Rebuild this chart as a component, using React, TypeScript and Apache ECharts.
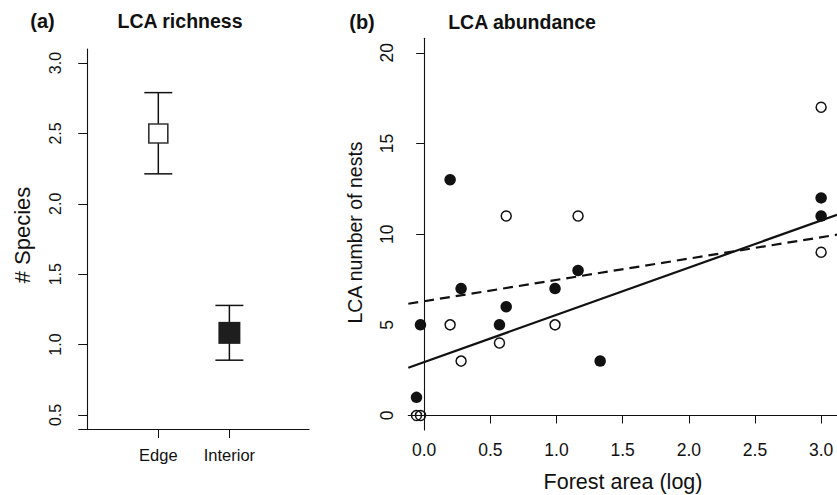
import React, { useEffect, useRef } from "react";
import * as echarts from "echarts";

// ---- Panel (a): LCA richness ----
const richnessCategories = ["Edge", "Interior"];
const richnessPositions = [1, 2];
const richnessMean = [2.5, 1.083];
const richnessUpper = [2.79, 1.278];
const richnessLower = [2.213, 0.889];
const richnessYTicks = [0.5, 1.0, 1.5, 2.0, 2.5, 3.0];

// ---- Panel (b): LCA abundance ----
const edgeArea = [-0.058, -0.028, 0.196, 0.279, 0.569, 0.62, 0.989, 1.163, 3.0, 3.0];
const edgeNests = [0, 0, 5, 3, 4, 11, 5, 11, 17, 9];
const interiorArea = [-0.058, -0.028, 0.196, 0.279, 0.569, 0.62, 0.989, 1.163, 1.33, 3.0, 3.0];
const interiorNests = [1, 5, 13, 7, 5, 6, 7, 8, 3, 12, 11];
const solidFitX = [-0.12, 3.12];
const solidFitY = [2.63, 11.07];
const dashedFitX = [-0.12, 3.12];
const dashedFitY = [6.16, 9.97];
const abundanceXTicks = [0, 0.5, 1.0, 1.5, 2.0, 2.5, 3.0];
const abundanceYTicks = [0, 5, 10, 15, 20];

const FONT = "'Liberation Sans', Arial, Helvetica, sans-serif";
const INK = "#111";

export default function App() {
  const ref = useRef<HTMLDivElement>(null);

  useEffect(() => {
    if (!ref.current) return;
    const chart = echarts.init(ref.current, undefined, { renderer: "svg" });

    const richnessData = richnessPositions.map((p, i) => [
      p,
      richnessMean[i],
      richnessLower[i],
      richnessUpper[i],
      i,
    ]);

    const axisLine = { show: true, lineStyle: { color: INK, width: 1.1 } };

    const option: any = {
      animation: false,
      backgroundColor: "#fff",
      textStyle: { fontFamily: FONT },
      grid: [
        { left: 78.7, top: 49, width: 230.3, height: 380 },
        { left: 408.3, top: 38.3, right: 0, height: 391.7 },
      ],
      xAxis: [
        {
          gridIndex: 0,
          type: "value",
          min: -0.12,
          max: 3.12,
          axisLine,
          splitLine: { show: false },
          axisTick: { show: true, customValues: richnessPositions, length: 9, lineStyle: { color: INK } },
          axisLabel: {
            customValues: richnessPositions,
            formatter: (v: number) => richnessCategories[richnessPositions.indexOf(v)] ?? "",
            fontSize: 16.5,
            margin: 17,
            color: INK,
            fontFamily: FONT,
          },
        },
        {
          gridIndex: 1,
          type: "value",
          min: -0.12,
          max: 3.12,
          axisLine,
          splitLine: { show: false },
          axisTick: { show: true, customValues: abundanceXTicks, length: 8, lineStyle: { color: INK } },
          axisLabel: {
            customValues: abundanceXTicks,
            formatter: (v: number) => v.toFixed(1),
            fontSize: 17.5,
            margin: 11,
            color: INK,
            fontFamily: FONT,
          },
        },
      ],
      yAxis: [
        {
          gridIndex: 0,
          type: "value",
          min: 0.4,
          max: 3.1,
          axisLine,
          splitLine: { show: false },
          axisTick: { show: true, customValues: richnessYTicks, length: 9, lineStyle: { color: INK } },
          axisLabel: {
            customValues: richnessYTicks,
            formatter: (v: number) => v.toFixed(1),
            rotate: 90,
            fontSize: 16,
            margin: 15,
            color: INK,
            fontFamily: FONT,
          },
        },
        {
          gridIndex: 1,
          type: "value",
          min: -0.8,
          max: 20.8,
          axisLine,
          splitLine: { show: false },
          axisTick: { show: true, customValues: abundanceYTicks, length: 8, lineStyle: { color: INK } },
          axisLabel: {
            customValues: abundanceYTicks,
            formatter: (v: number) => String(v),
            rotate: 90,
            fontSize: 17.5,
            margin: 12,
            color: INK,
            fontFamily: FONT,
          },
        },
      ],
      series: [
        {
          name: "LCA richness",
          type: "custom",
          xAxisIndex: 0,
          yAxisIndex: 0,
          data: richnessData,
          renderItem: (params: any, api: any) => {
            const x = api.value(0);
            const mean = api.coord([x, api.value(1)]);
            const lo = api.coord([x, api.value(2)]);
            const hi = api.coord([x, api.value(3)]);
            const idx = api.value(4);
            const capHalf = 14;
            const size = idx === 0 ? 19 : 22;
            const ls = { stroke: INK, lineWidth: 1.5 };
            return {
              type: "group",
              children: [
                { type: "line", shape: { x1: hi[0], y1: hi[1], x2: lo[0], y2: lo[1] }, style: ls },
                { type: "line", shape: { x1: hi[0] - capHalf, y1: hi[1], x2: hi[0] + capHalf, y2: hi[1] }, style: ls },
                { type: "line", shape: { x1: lo[0] - capHalf, y1: lo[1], x2: lo[0] + capHalf, y2: lo[1] }, style: ls },
                {
                  type: "rect",
                  shape: { x: mean[0] - size / 2, y: mean[1] - size / 2, width: size, height: size },
                  style:
                    idx === 0
                      ? { fill: "#fff", stroke: "#333", lineWidth: 1.6 }
                      : { fill: "#1e1e1e", stroke: "#1e1e1e", lineWidth: 0 },
                },
              ],
            };
          },
        },
        {
          name: "Fit (solid)",
          type: "line",
          xAxisIndex: 1,
          yAxisIndex: 1,
          data: solidFitX.map((x, i) => [x, solidFitY[i]]),
          symbol: "none",
          lineStyle: { color: INK, width: 2.2 },
          z: 2,
        },
        {
          name: "Fit (dashed)",
          type: "line",
          xAxisIndex: 1,
          yAxisIndex: 1,
          data: dashedFitX.map((x, i) => [x, dashedFitY[i]]),
          symbol: "none",
          lineStyle: { color: INK, width: 2.2, type: [10, 6] },
          z: 2,
        },
        {
          name: "Edge",
          type: "scatter",
          xAxisIndex: 1,
          yAxisIndex: 1,
          data: edgeArea.map((x, i) => [x, edgeNests[i]]),
          symbol: "circle",
          symbolSize: 10,
          itemStyle: { color: "rgba(0,0,0,0)", borderColor: INK, borderWidth: 1.5, opacity: 1 },
          z: 3,
        },
        {
          name: "Interior",
          type: "scatter",
          xAxisIndex: 1,
          yAxisIndex: 1,
          data: interiorArea.map((x, i) => [x, interiorNests[i]]),
          symbol: "circle",
          symbolSize: 11.5,
          itemStyle: { color: "#111", opacity: 1 },
          z: 3,
        },
      ],
      graphic: [
        {
          type: "text",
          x: 42.5,
          y: 21,
          style: { text: "(a)", font: `bold 20px ${FONT}`, fill: INK, align: "center", verticalAlign: "middle" },
        },
        {
          type: "text",
          x: 180,
          y: 21,
          style: { text: "LCA richness", font: `bold 19.5px ${FONT}`, fill: INK, align: "center", verticalAlign: "middle" },
        },
        {
          type: "text",
          x: 362,
          y: 22,
          style: { text: "(b)", font: `bold 20px ${FONT}`, fill: INK, align: "center", verticalAlign: "middle" },
        },
        {
          type: "text",
          x: 522,
          y: 22,
          style: { text: "LCA abundance", font: `bold 19.5px ${FONT}`, fill: INK, align: "center", verticalAlign: "middle" },
        },
        {
          type: "text",
          x: 22,
          y: 235,
          rotation: Math.PI / 2,
          style: { text: "# Species", font: `22px ${FONT}`, fill: INK, align: "center", verticalAlign: "middle" },
        },
        {
          type: "text",
          x: 355,
          y: 232.5,
          rotation: Math.PI / 2,
          style: { text: "LCA number of nests", font: `19.5px ${FONT}`, fill: INK, align: "center", verticalAlign: "middle" },
        },
        {
          type: "text",
          x: 623,
          y: 482,
          style: { text: "Forest area (log)", font: `21.5px ${FONT}`, fill: INK, align: "center", verticalAlign: "middle" },
        },
      ],
    };

    chart.setOption(option);
    return () => chart.dispose();
  }, []);

  return (
    <div
      ref={ref}
      style={{ position: "absolute", left: 0, top: 0, width: 837, height: 495, background: "#fff" }}
    />
  );
}
